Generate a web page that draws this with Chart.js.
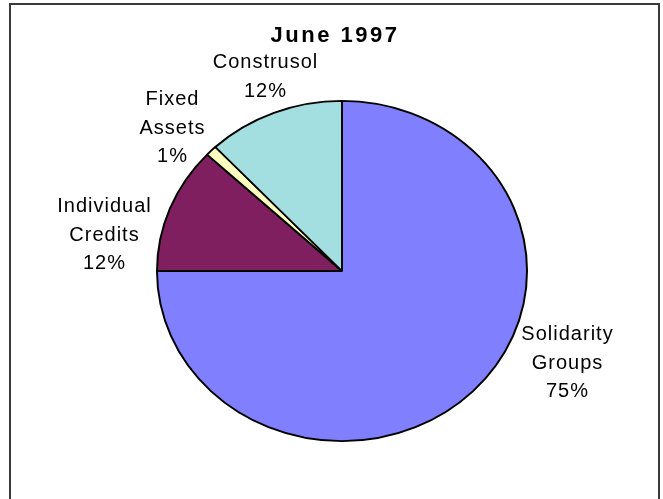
<!DOCTYPE html>
<html>
<head>
<meta charset="utf-8">
<script src="https://cdn.jsdelivr.net/npm/chart.js@4/dist/chart.umd.min.js"></script>
<style>
  html, body { margin: 0; padding: 0; background: #fff; }
  #wrap { position: relative; width: 663px; height: 499px; }
</style>
</head>
<body>
<div id="wrap"><canvas id="chart" width="663" height="499"></canvas></div>
<script>
// Portfolio composition, June 1997 (percent of total)
const title = 'June 1997';
const categories = ['Solidarity Groups', 'Individual Credits', 'Fixed Assets', 'Construsol'];
const labelLines = [['Solidarity', 'Groups'], ['Individual', 'Credits'], ['Fixed', 'Assets'], ['Construsol']];
const values = [75, 12, 1, 12];
const colors = ['#8080FF', '#7F1F5F', '#FFFFC0', '#A3DFE0'];

// Pie geometry: circle of radius ry, stretched horizontally to rx
const pieCx = 342, pieCy = 271, rx = 186, ry = 171;
// Label block anchors (centre x, first baseline y)
const labelAnchors = [[567, 340], [104, 212], [172, 105], [265, 68]];

const ellipsePlugin = {
  id: 'ellipse',
  beforeDatasetsDraw(chart) {
    const ctx = chart.ctx;
    ctx.save();
    ctx.translate(pieCx, pieCy);
    ctx.scale(rx / ry, 1);
    ctx.translate(-pieCx, -pieCy);
  },
  afterDatasetsDraw(chart) {
    chart.ctx.restore();
  }
};

const textPlugin = {
  id: 'texts',
  afterDraw(chart) {
    const ctx = chart.ctx;
    ctx.save();
    // outer frame
    ctx.strokeStyle = '#3a3a3a';
    ctx.lineWidth = 2;
    ctx.strokeRect(10, 4, 649, 520);

    ctx.fillStyle = '#000';
    ctx.textAlign = 'center';
    ctx.textBaseline = 'alphabetic';
    ctx.font = 'bold 22px "Liberation Sans", Arial, sans-serif';
    ctx.letterSpacing = '2.5px';
    ctx.fillText(title, 335, 42);

    const total = values.reduce((a, b) => a + b, 0);
    ctx.font = '20px "Liberation Sans", Arial, sans-serif';
    ctx.letterSpacing = '1px';
    const lineH = 28.5;
    values.forEach((v, i) => {
      const lines = labelLines[i].concat([Math.round(v / total * 100) + '%']);
      const [x, y] = labelAnchors[i];
      lines.forEach((t, k) => ctx.fillText(t, x + 0.5, y + k * lineH));
    });
    ctx.restore();
  }
};

new Chart(document.getElementById('chart'), {
  type: 'pie',
  data: {
    labels: categories,
    datasets: [{
      data: values,
      backgroundColor: colors,
      borderColor: '#000',
      borderWidth: 1.8
    }]
  },
  options: {
    responsive: false,
    animation: false,
    events: [],
    layout: {
      padding: { left: pieCx - ry, top: pieCy - ry, right: 663 - pieCx - ry, bottom: 499 - pieCy - ry }
    },
    plugins: {
      legend: { display: false },
      tooltip: { enabled: false },
      title: { display: false }
    }
  },
  plugins: [ellipsePlugin, textPlugin]
});
</script>
</body>
</html>
